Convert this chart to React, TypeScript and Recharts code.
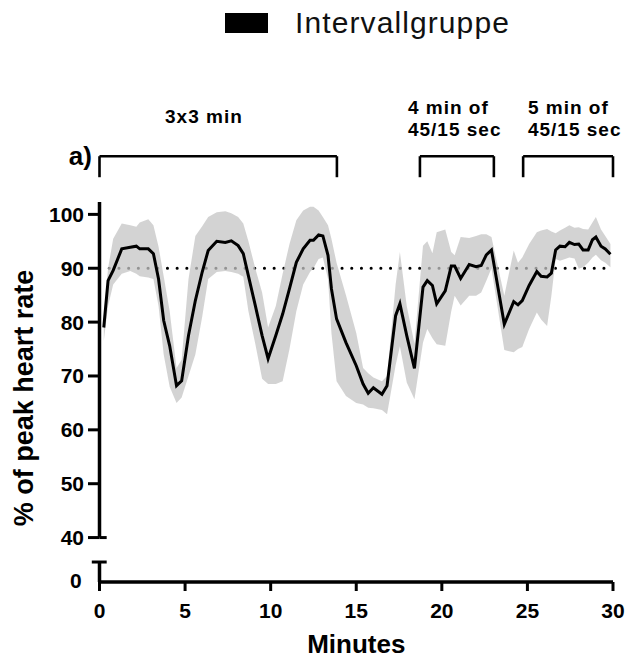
import React from 'react';
import { ComposedChart, Area, Line, XAxis, YAxis, ReferenceLine, ReferenceDot, Legend } from 'recharts';

// time in minutes
const minutes = [
  0.25, 0.5, 0.8, 1.3, 1.8, 2.15, 2.35, 2.85, 3.15, 3.45, 3.75, 4.1, 4.5, 4.8, 5.2, 5.6, 6.0, 6.35, 6.85, 7.35,
  7.7, 8.1, 8.4, 8.7, 9.1, 9.5, 9.85, 10.3, 10.7, 11.1, 11.5, 11.9, 12.3, 12.5, 12.8, 13.05, 13.35, 13.55, 13.85, 14.4,
  15.0, 15.4, 15.7, 16.0, 16.5, 16.8, 17.3, 17.55, 17.95, 18.4, 18.9, 19.15, 19.45, 19.7, 20.2, 20.55, 20.75, 21.1, 21.6, 22.0,
  22.3, 22.6, 22.9, 23.65, 24.2, 24.45, 24.7, 25.1, 25.55, 25.8, 26.15, 26.4, 26.65, 26.9, 27.2, 27.45, 27.75, 28.0, 28.25, 28.55,
  28.8, 29.0, 29.3, 29.55, 29.85,
];

// mean % of peak heart rate
const heartRate = [
  79.0, 87.7, 89.6, 93.6, 93.9, 94.1, 93.6, 93.6, 92.7, 88.0, 80.3, 75.6, 68.2, 69.1, 77.5, 84.0, 89.3, 93.3, 95.0, 94.8,
  95.1, 94.2, 92.7, 88.6, 83.1, 77.5, 73.2, 77.5, 81.5, 86.2, 91.1, 93.6, 95.2, 95.2, 96.2, 96.0, 92.4, 86.2, 80.6, 76.2,
  71.9, 68.5, 66.8, 67.8, 66.6, 68.2, 81.2, 83.4, 77.5, 71.4, 86.5, 87.7, 86.8, 83.4, 85.8, 90.4, 90.4, 88.1, 90.7, 90.3,
  90.5, 92.5, 93.4, 79.6, 83.8, 83.2, 84.0, 86.8, 89.4, 88.5, 88.4, 89.1, 93.4, 94.1, 94.0, 94.8, 94.4, 94.5, 93.4, 93.4,
  95.3, 95.8, 94.1, 93.6, 92.6,
];

// lower / upper edge of the grey band (SD)
const sdLow = [
  76.5, 83, 87, 89, 89.5, 89, 88.5, 88.3, 88, 83, 74, 68, 65, 66, 70, 74, 81, 88, 89.3, 89.5,
  89.3, 89, 88.4, 82, 76, 69.5, 68.5, 68.5, 69, 75, 82, 87, 89.3, 90, 91.7, 92, 88, 78, 69, 66.3,
  65, 64.7, 64.1, 64, 63.7, 62.9, 72, 75.5, 68.8, 65.7, 76.2, 78.7, 77, 75.9, 75.6, 82, 84.9, 83.1, 84.9, 84.9,
  85.5, 87.7, 90, 74.8, 74.4, 75, 75.4, 78.7, 81.8, 80.5, 79.3, 84.9, 91.7, 91.4, 91.7, 92, 91.8, 89.9, 90.2, 91,
  92, 92.5, 91.5, 91, 90.2,
];

const sdHigh = [
  81, 90, 95.5, 98.3, 98.0, 97.7, 98.5, 99.1, 98, 94, 88.5, 82, 71.5, 73, 88, 96, 97.8, 99.5, 100.4, 100.6,
  100.2, 99.5, 98.3, 95, 90, 85.5, 79, 83, 89, 94.5, 98.9, 100.7, 101.4, 101.4, 100.7, 99.5, 98, 95.5, 91, 85,
  78, 71.5, 70.5, 69.7, 69, 70, 87, 93, 83, 76, 94.2, 95, 92.8, 96.7, 97.2, 93, 92.4, 95.8, 95.6, 96,
  96.3, 96.3, 95.8, 84.9, 93.3, 91, 92, 94.5, 96.7, 97, 97.3, 96.8, 96.5, 97, 97.5, 98, 97.5, 97.6, 97.3, 97.2,
  98.5, 99.5, 97.2, 96, 94.5,
];

const xTicks = [0, 5, 10, 15, 20, 25, 30];
const yTicks = [40, 50, 60, 70, 80, 90, 100];
const thresholdLine = 90;

// training phases (minutes)
const phaseStart = [0, 18.72, 24.75];
const phaseEnd = [13.87, 23.04, 30];
const phaseText = [['3x3 min'], ['4 min of', '45/15 sec'], ['5 min of', '45/15 sec']];

const seriesName = 'Intervallgruppe';

const data = minutes.map((t, i) => ({ t, hr: heartRate[i], band: [sdLow[i], sdHigh[i]] }));

// layout (value-space positions of the annotations above the plot)
const yMin = 31.75;
const yMax = 102.3;
const bracketTop = 110.8;
const bracketFoot = 106.9;
const breakTop = 35.46;
const phaseTextX = [3.83, 18.02, 25.03];
const FONT = '"Liberation Sans", Arial, Helvetica, sans-serif';
const tickStyle = { fontSize: 21, fontWeight: 'bold', fill: '#000', fontFamily: FONT };

const phaseLabel = (lines: string[]) => (props: any) => {
  const { viewBox } = props;
  return (
    <text x={viewBox.x} y={viewBox.y} fontSize={19} fontWeight="bold" letterSpacing={1} fontFamily={FONT} fill="#000">
      {lines.map((l, i) => (
        <tspan key={i} x={viewBox.x} dy={i === 0 ? 0 : 22.7}>
          {l}
        </tspan>
      ))}
    </text>
  );
};

const LegendBox = () => (
  <svg width={630} height={45}>
    <rect x={225} y={13} width={43} height={20} fill="#000" />
    <text x={295} y={33} fontSize={30} letterSpacing={1.1} fontFamily={FONT} fill="#111">
      {seriesName}
    </text>
  </svg>
);

const App = () => {
  const black = { stroke: '#000', strokeWidth: 2.6 };
  return (
    <div style={{ width: 630, height: 658, background: '#fff' }}>
      <style>{'body{margin:0}'}</style>
      <ComposedChart width={630} height={658} data={data} margin={{ top: 157, right: 17, bottom: 0, left: 0 }}>
        <Legend verticalAlign="top" content={<LegendBox />} wrapperStyle={{ top: 0, left: 0, height: 45 }} />
        <XAxis
          type="number"
          dataKey="t"
          domain={[0, 30]}
          ticks={xTicks}
          height={76}
          tick={tickStyle}
          tickSize={9}
          tickMargin={12}
          axisLine={{ stroke: '#000', strokeWidth: 3.5 }}
          tickLine={{ stroke: '#000', strokeWidth: 3 }}
          allowDataOverflow
          label={(p: any) => (
            <text
              x={p.viewBox.x + p.viewBox.width / 2}
              y={p.viewBox.y + 71}
              textAnchor="middle"
              fontSize={26}
              fontWeight="bold"
              fontFamily={FONT}
              fill="#000"
            >
              Minutes
            </text>
          )}
        />
        <YAxis
          type="number"
          domain={[yMin, yMax]}
          ticks={yTicks}
          width={99.5}
          tick={tickStyle}
          tickSize={11.5}
          tickMargin={4}
          axisLine={false}
          tickLine={{ stroke: '#000', strokeWidth: 3 }}
          allowDataOverflow
          label={(p: any) => (
            <text
              x={33}
              y={p.viewBox.y + 196}
              transform={`rotate(-90, 33, ${p.viewBox.y + 196})`}
              textAnchor="middle"
              fontSize={27}
              fontWeight="bold"
              fontFamily={FONT}
              fill="#000"
            >
              % of peak heart rate
            </text>
          )}
        />
        <ReferenceLine
          y={thresholdLine}
          stroke="#000"
          strokeWidth={3}
          strokeDasharray="0.1 9.6"
          strokeLinecap="round"
          zIndex={50}
        />
        <Area
          type="linear"
          dataKey="band"
          stroke="none"
          fill="#c4c4c4"
          fillOpacity={0.75}
          isAnimationActive={false}
          zIndex={100}
        />
        <Line type="linear" dataKey="hr" stroke="#000" strokeWidth={3} dot={false} isAnimationActive={false} />

        {/* broken y axis */}
        <ReferenceLine segment={[{ x: 0, y: 40 }, { x: 0, y: yMax }]} stroke="#000" strokeWidth={3.5} ifOverflow="visible" />
        <ReferenceLine segment={[{ x: 0, y: 40 }, { x: 0.42, y: 40 }]} stroke="#000" strokeWidth={3} ifOverflow="visible" />
        <ReferenceLine segment={[{ x: 0, y: yMin }, { x: 0, y: breakTop }]} stroke="#000" strokeWidth={3.5} ifOverflow="visible" />
        <ReferenceLine
          segment={[{ x: -0.45, y: breakTop }, { x: 0.42, y: breakTop }]}
          stroke="#000"
          strokeWidth={3}
          ifOverflow="visible"
        />
        <ReferenceDot
          x={-1.04}
          y={32.03}
          r={0}
          fill="none"
          stroke="none"
          ifOverflow="visible"
          label={(p: any) => (
            <text x={p.viewBox.x} y={p.viewBox.y} dy="0.36em" textAnchor="end" {...tickStyle}>
              0
            </text>
          )}
        />

        {/* phase brackets */}
        {phaseStart.map((s, i) => (
          <ReferenceLine
            key={`top${i}`}
            segment={[{ x: s, y: bracketTop }, { x: phaseEnd[i], y: bracketTop }]}
            {...black}
            ifOverflow="visible"
          />
        ))}
        {phaseStart.map((s, i) => (
          <ReferenceLine
            key={`l${i}`}
            segment={[{ x: s, y: bracketTop }, { x: s, y: bracketFoot }]}
            {...black}
            ifOverflow="visible"
          />
        ))}
        {phaseEnd.map((e, i) => (
          <ReferenceLine
            key={`r${i}`}
            segment={[{ x: e, y: bracketTop }, { x: e, y: bracketFoot }]}
            {...black}
            ifOverflow="visible"
          />
        ))}
        {phaseText.map((lines, i) => (
          <ReferenceDot
            key={`txt${i}`}
            x={phaseTextX[i]}
            y={lines.length > 1 ? 118.7 : 116.9}
            r={0}
            fill="none"
            stroke="none"
            ifOverflow="visible"
            label={phaseLabel(lines)}
          />
        ))}
        <ReferenceDot
          x={-0.44}
          y={109.1}
          r={0}
          fill="none"
          stroke="none"
          ifOverflow="visible"
          label={(p: any) => (
            <text x={p.viewBox.x} y={p.viewBox.y} textAnchor="end" fontSize={26} fontWeight="bold" fontFamily={FONT} fill="#000">
              a)
            </text>
          )}
        />
      </ComposedChart>
    </div>
  );
};

export default App;
